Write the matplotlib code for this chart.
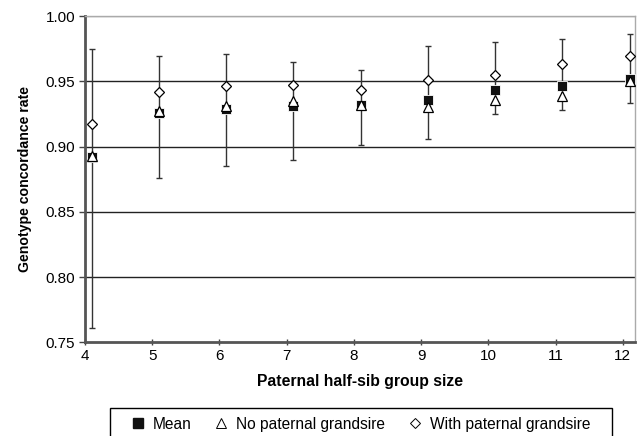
import matplotlib
matplotlib.use("Agg")
import matplotlib.pyplot as plt
from matplotlib.lines import Line2D
from matplotlib.patches import Rectangle

plt.rcParams['font.family'] = ['Liberation Sans', 'DejaVu Sans']

group_size = [4, 5, 6, 7, 8, 9, 10, 11, 12]
mean = [0.892, 0.926, 0.929, 0.931, 0.932, 0.936, 0.943, 0.946, 0.952]
no_grandsire = [0.893, 0.927, 0.931, 0.935, 0.932, 0.930, 0.936, 0.939, 0.950]
with_grandsire = [0.917, 0.942, 0.946, 0.947, 0.943, 0.951, 0.955, 0.963, 0.969]
upper = [0.975, 0.969, 0.971, 0.965, 0.959, 0.977, 0.980, 0.982, 0.986]
lower = [0.761, 0.876, 0.885, 0.890, 0.901, 0.906, 0.925, 0.928, 0.933]

# points sit a bit to the right of the integer ticks
xs = [g + 0.1 for g in group_size]
err_lo = [m - l for m, l in zip(mean, lower)]
err_hi = [u - m for m, u in zip(mean, upper)]

fig = plt.figure(figsize=(6.41, 4.36), dpi=100)
ax = fig.add_axes([0.1326, 0.2149, 0.858, 0.7484])

for yv in [0.80, 0.85, 0.90, 0.95]:
    ax.axhline(yv, color='#222222', lw=1.0, zorder=1)
ax.axhline(1.0, color='#999999', lw=1.0, zorder=1)

ax.errorbar(xs, mean, yerr=[err_lo, err_hi], fmt='none', ecolor='#333333',
            elinewidth=1.0, capsize=2.2, capthick=1.0, zorder=2)
ax.plot(xs, mean, 's', color='#111111', ms=7, mec='white', mew=0.6, ls='none', zorder=3)
ax.plot(xs, no_grandsire, '^', mfc='white', mec='black', ms=7, mew=0.9, ls='none', zorder=4)
ax.plot(xs, with_grandsire, 'D', mfc='white', mec='black', ms=5.5, mew=0.9, ls='none', zorder=5)

ax.set_xlim(4, 12.18)
ax.set_ylim(0.75, 1.0)
ax.set_xticks(group_size)
ax.set_yticks([0.75, 0.80, 0.85, 0.90, 0.95, 1.00])
ax.set_yticklabels(['%.2f' % v for v in [0.75, 0.80, 0.85, 0.90, 0.95, 1.00]])
ax.tick_params(axis='both', labelsize=11, color='#444444', width=1.0)
ax.tick_params(axis='y', direction='out', length=4, pad=3)
ax.tick_params(axis='x', direction='inout', length=5, pad=2)

for side in ['left', 'bottom']:
    ax.spines[side].set_color('#555555')
    ax.spines[side].set_linewidth(2.0)
for side in ['top', 'right']:
    ax.spines[side].set_color('#aaaaaa')
    ax.spines[side].set_linewidth(1.0)

ax.set_xlabel('Paternal half-sib group size', fontsize=11.3, fontweight='bold', labelpad=8)
ax.set_ylabel('Genotype concordance rate', fontsize=10.2, fontweight='bold', labelpad=10)

# legend box runs off the bottom edge like in the original
fig.patches.append(Rectangle((110 / 641, -0.1), 502 / 641, 0.1 + 0.0642,
                             transform=fig.transFigure, fill=False,
                             edgecolor='black', lw=1.0))

handles = [
    Line2D([], [], marker='s', color='#111111', ls='none', ms=7),
    Line2D([], [], marker='^', mfc='white', mec='black', ls='none', ms=7, mew=0.7),
    Line2D([], [], marker='D', mfc='white', mec='black', ls='none', ms=5.5, mew=0.7),
]
labels = ['Mean', 'No paternal grandsire', 'With paternal grandsire']
leg = fig.legend(handles, labels, loc='center left', bbox_to_anchor=(132 / 641, 1 - 424 / 436),
                 borderaxespad=0, borderpad=0, ncol=3, frameon=False,
                 fontsize=11.2, handlelength=0.8, handletextpad=0.55, columnspacing=1.5)

fig.savefig('out.png', dpi=100)
